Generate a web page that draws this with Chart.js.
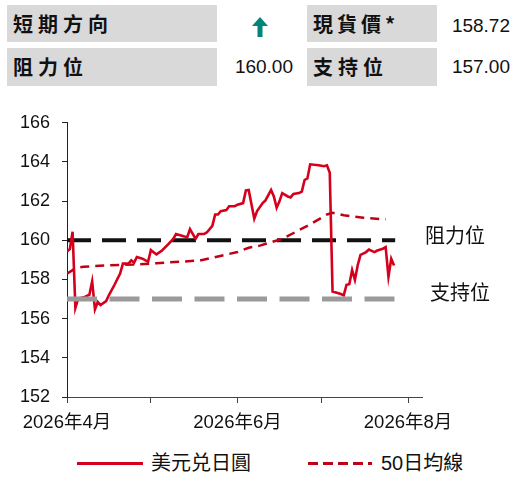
<!DOCTYPE html>
<html>
<head>
<meta charset="utf-8">
<script src="https://cdn.jsdelivr.net/npm/chart.js@4.4.1/dist/chart.umd.min.js"></script>
<style>
  body { margin: 0; background: #fff; font-family: "Liberation Sans", "Noto Sans CJK TC", sans-serif; }
  .wrap { position: relative; width: 520px; height: 480px; overflow: hidden; }
  .box { position: absolute; background: #d9d9d9; }
  .lbl { position: absolute; font-weight: bold; font-size: 20px; letter-spacing: 5px; color: #111;
         font-family: "Noto Sans CJK TC", sans-serif; line-height: 1; }
  .num { position: absolute; font-size: 19px; color: #111; line-height: 1; text-align: right; width: 90px; }
  #chart { position: absolute; left: 0; top: 100px; }
  .leg { position: absolute; top: 452px; font-size: 20px; line-height: 22px; color: #111; }
  .legline { position: absolute; height: 3px; top: 462px; }
</style>
</head>
<body>
<div class="wrap">
  <div class="box" style="left:7px;top:5px;width:210px;height:37px"></div>
  <div class="box" style="left:7px;top:48px;width:210px;height:38px"></div>
  <div class="box" style="left:307px;top:5px;width:130px;height:37px"></div>
  <div class="box" style="left:307px;top:48px;width:130px;height:38px"></div>

  <div class="lbl" style="left:13px;top:14px">短期方向</div>
  <div class="lbl" style="left:13px;top:57px">阻力位</div>
  <div class="lbl" style="left:313px;top:14px;letter-spacing:4px">現貨價*</div>
  <div class="lbl" style="left:313px;top:57px">支持位</div>

  <svg style="position:absolute;left:252px;top:17px" width="16" height="20" viewBox="0 0 16 20">
    <polygon points="8,0 16,9 10.5,9 10.5,20 5.5,20 5.5,9 0,9" fill="#00857a"/>
  </svg>

  <div class="num" style="left:420px;top:16px">158.72</div>
  <div class="num" style="left:203px;top:57px">160.00</div>
  <div class="num" style="left:420px;top:57px">157.00</div>

  <canvas id="chart" width="520" height="345"></canvas>

  <div class="legline" style="left:77px;width:66px;background:#d7001c"></div>
  <div class="leg" style="left:151px">美元兑日圓</div>
  <div class="legline" style="left:308px;width:64px;background:repeating-linear-gradient(to right,#c00016 0,#c00016 10px,transparent 10px,transparent 15px)"></div>
  <div class="leg" style="left:381px">50日均線</div>
</div>

<script>
// days counted from 2026-04-01
const days = [0, 1, 2, 3, 4, 6, 8, 9, 10, 11, 12, 14, 15, 17, 19, 20, 22, 23, 24, 25, 27, 29, 30, 32,
  34, 36, 38, 39, 42, 43, 44, 46, 47, 49, 50, 52, 53, 54, 55, 57, 58, 60, 61, 63, 64, 65, 67, 68,
  70, 71, 73, 74, 75, 76, 77, 79, 80, 81, 83, 84, 85, 86, 87, 90, 92, 93, 94, 95, 98, 99, 100, 101,
  102, 103, 104, 105, 107, 108, 110, 111, 113, 114, 115, 116, 117];
const usdjpy = [159.43, 159.55, 160.44, 156.55, 157.02, 157.09, 157.22, 157.90, 156.47, 156.85, 156.70, 156.90,
  157.20, 157.73, 158.30, 158.81, 158.81, 158.98, 158.86, 159.15, 159.06, 158.90, 159.50, 159.28,
  159.48, 159.77, 160.07, 160.32, 160.20, 160.15, 160.57, 160.07, 160.32, 160.32, 160.40, 160.74,
  161.32, 161.32, 161.49, 161.54, 161.74, 161.74, 161.82, 161.90, 162.55, 162.57, 161.10, 161.49,
  161.90, 162.04, 162.57, 162.24, 161.66, 161.99, 162.41, 162.24, 162.19, 162.37, 162.41, 162.49,
  163.08, 163.16, 163.88, 163.83, 163.78, 163.83, 163.45, 157.39, 157.26, 157.19, 157.73, 157.76,
  158.48, 157.98, 158.73, 159.26, 159.40, 159.53, 159.40, 159.48, 159.57, 159.65, 158.14, 159.06, 158.72];

const maDays = [0, 2, 3, 6, 15, 24, 32, 42, 48, 51, 61, 65, 69, 77, 86, 91, 93, 95, 99, 106, 114];
const ma50 = [158.30, 158.48, 158.58, 158.65, 158.73, 158.76, 158.83, 158.92, 158.98, 159.08, 159.40,
  159.62, 159.73, 160.07, 160.74, 161.15, 161.32, 161.40, 161.28, 161.15, 161.07];

const resistance = 160;
const support = 157;
const levelDays = [0, 117.4];

const xTickDays = [0, 30, 61, 91, 122];
const xTickLabels = ['2026年4月', '', '2026年6月', '', '2026年8月'];

const pts = (xs, ys) => xs.map((x, i) => ({ x: x, y: ys[i] }));
const flat = (v) => levelDays.map(d => ({ x: d, y: v }));

const levelLabels = {
  id: 'levelLabels',
  afterDraw(chart) {
    const ctx = chart.ctx;
    const y = chart.scales.y;
    ctx.save();
    ctx.font = '20px "Noto Sans CJK TC", sans-serif';
    ctx.fillStyle = '#111';
    ctx.textBaseline = 'middle';
    ctx.fillText('阻力位', chart.chartArea.right + 3, y.getPixelForValue(resistance) - 5);
    ctx.fillText('支持位', chart.chartArea.right + 8, y.getPixelForValue(support) - 7);
    ctx.restore();
  }
};

new Chart(document.getElementById('chart'), {
  type: 'line',
  data: {
    datasets: [
      { label: '支持位', data: flat(support), borderColor: '#9a9a9a', borderWidth: 5,
        borderDash: [30, 12.5], order: 0 },
      { label: '美元兑日圓', data: pts(days, usdjpy), borderColor: '#d5001c', borderWidth: 2.6, order: 1 },
      { label: '50日均線', data: pts(maDays, ma50), borderColor: '#c00016', borderWidth: 2.5,
        borderDash: [9, 6], order: 2 },
      { label: '阻力位', data: flat(resistance), borderColor: '#111', borderWidth: 4,
        borderDash: [24, 11], order: 3 }
    ]
  },
  options: {
    responsive: false,
    animation: false,
    devicePixelRatio: 1,
    layout: { padding: { top: 18, right: 98, left: 0, bottom: 0 } },
    elements: { point: { radius: 0 }, line: { tension: 0, borderCapStyle: 'butt' } },
    plugins: { legend: { display: false }, tooltip: { enabled: false } },
    scales: {
      x: {
        type: 'linear',
        min: 0,
        max: 127,
        afterBuildTicks: (axis) => { axis.ticks = xTickDays.map(v => ({ value: v })); },
        afterFit: (axis) => { axis.height = 48; },
        grid: { drawOnChartArea: false, tickLength: 6, color: '#444' },
        border: { color: '#444', width: 1 },
        ticks: {
          autoSkip: false,
          maxRotation: 0,
          padding: 9,
          color: '#111',
          font: { family: '"Liberation Sans", "Noto Sans CJK TC", sans-serif', size: 18.5 },
          callback: (v) => xTickLabels[xTickDays.indexOf(v)]
        }
      },
      y: {
        min: 152,
        max: 166,
        afterFit: (axis) => { axis.width = 67; },
        grid: { drawOnChartArea: false, tickLength: 5, color: '#222' },
        border: { color: '#222', width: 1 },
        ticks: {
          stepSize: 2,
          padding: 12,
          color: '#111',
          font: { family: '"Liberation Sans", sans-serif', size: 18 }
        }
      }
    }
  },
  plugins: [levelLabels]
});
</script>
</body>
</html>
